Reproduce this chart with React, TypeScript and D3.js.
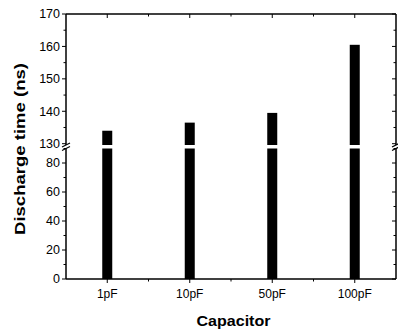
import React, { useEffect, useRef } from 'react';
import * as d3 from 'd3';

const categories = ['1pF', '10pF', '50pF', '100pF'];
const dischargeTimes = [134, 136.5, 139.5, 160.5];
const upperTicks = [130, 140, 150, 160, 170];
const lowerTicks = [0, 20, 40, 60, 80];

export default function App() {
  const ref = useRef<SVGSVGElement>(null);

  useEffect(() => {
    const svg = d3.select(ref.current);
    svg.selectAll('*').remove();

    const left = 66;
    const right = 396;
    const top = 14;
    const bottom = 279;
    const font = 'Arial, "Liberation Sans", sans-serif';

    const x = d3.scaleLinear().domain([-0.5, 3.5]).range([left, right]);
    const yUp = d3.scaleLinear().domain([129.6, 170]).range([145, top]);
    const yLow = d3.scaleLinear().domain([0, 90]).range([bottom, 148.5]);
    const breakTop = 145;
    const breakBot = 148.5;

    // bars, split at the break
    const bars = svg.append('g').attr('fill', '#000');
    categories.forEach((c, i) => {
      const v = dischargeTimes[i];
      const cx = x(i);
      bars.append('rect')
        .attr('x', cx - 5).attr('width', 10)
        .attr('y', yLow(90)).attr('height', yLow(0) - yLow(90));
      bars.append('rect')
        .attr('x', cx - 5).attr('width', 10)
        .attr('y', yUp(v)).attr('height', yUp(129.6) - yUp(v));
    });

    const ax = svg.append('g').attr('stroke', '#000').attr('fill', 'none');
    // frame
    ax.append('line').attr('x1', left).attr('x2', right).attr('y1', top).attr('y2', top).attr('stroke-width', 1.5);
    ax.append('line').attr('x1', left).attr('x2', right).attr('y1', bottom).attr('y2', bottom).attr('stroke-width', 1.5);
    [left, right].forEach((xx) => {
      ax.append('line').attr('x1', xx).attr('x2', xx).attr('y1', top).attr('y2', breakTop).attr('stroke-width', 1.5);
      ax.append('line').attr('x1', xx).attr('x2', xx).attr('y1', breakBot).attr('y2', bottom).attr('stroke-width', 1.5);
      // break marks
      [breakTop, breakBot].forEach((yy) => {
        ax.append('line')
          .attr('x1', xx - 4).attr('y1', yy + 2)
          .attr('x2', xx + 4).attr('y2', yy - 2)
          .attr('stroke-width', 1.2);
      });
    });

    // y ticks
    const labels = svg.append('g')
      .attr('font-family', font).attr('font-size', 12.5).attr('fill', '#000')
      .attr('text-anchor', 'end');
    const yTick = (yy: number, major: boolean, label?: string) => {
      const len = major ? 4 : 2.5;
      ax.append('line').attr('x1', left - len).attr('x2', left).attr('y1', yy).attr('y2', yy);
      ax.append('line').attr('x1', right).attr('x2', right - len).attr('y1', yy).attr('y2', yy);
      if (label !== undefined) {
        labels.append('text').attr('x', left - 6).attr('y', yy).attr('dy', '0.35em').text(label);
      }
    };
    upperTicks.forEach((t) => {
      yTick(yUp(t), true, String(t));
      if (t < 170) yTick(yUp(t + 5), false);
    });
    lowerTicks.forEach((t) => {
      yTick(yLow(t), true, String(t));
      yTick(yLow(t + 10), false);
    });

    // x ticks
    const xLabels = svg.append('g')
      .attr('font-family', font).attr('font-size', 12).attr('fill', '#000')
      .attr('text-anchor', 'middle');
    categories.forEach((c, i) => {
      const cx = x(i);
      ax.append('line').attr('x1', cx).attr('x2', cx).attr('y1', bottom).attr('y2', bottom + 4);
      ax.append('line').attr('x1', cx).attr('x2', cx).attr('y1', top).attr('y2', top + 4);
      xLabels.append('text').attr('x', cx).attr('y', bottom + 19).text(c);
      if (i < categories.length - 1) {
        const mx = x(i + 0.5);
        ax.append('line').attr('x1', mx).attr('x2', mx).attr('y1', bottom).attr('y2', bottom + 2.5);
        ax.append('line').attr('x1', mx).attr('x2', mx).attr('y1', top).attr('y2', top + 2.5);
      }
    });

    // titles
    svg.append('text')
      .attr('x', 233.5).attr('y', 326)
      .attr('text-anchor', 'middle')
      .attr('font-family', font).attr('font-size', 14.5).attr('font-weight', 'bold')
      .attr('textLength', 74).attr('lengthAdjust', 'spacingAndGlyphs')
      .text('Capacitor');
    svg.append('text')
      .attr('transform', 'translate(25,149) rotate(-90)')
      .attr('text-anchor', 'middle')
      .attr('font-family', font).attr('font-size', 14.5).attr('font-weight', 'bold')
      .attr('textLength', 172).attr('lengthAdjust', 'spacingAndGlyphs')
      .text('Discharge time (ns)');
  }, []);

  return (
    <svg
      ref={ref}
      width={398}
      height={334}
      style={{ position: 'absolute', left: 0, top: 0, background: '#fff' }}
    />
  );
}
